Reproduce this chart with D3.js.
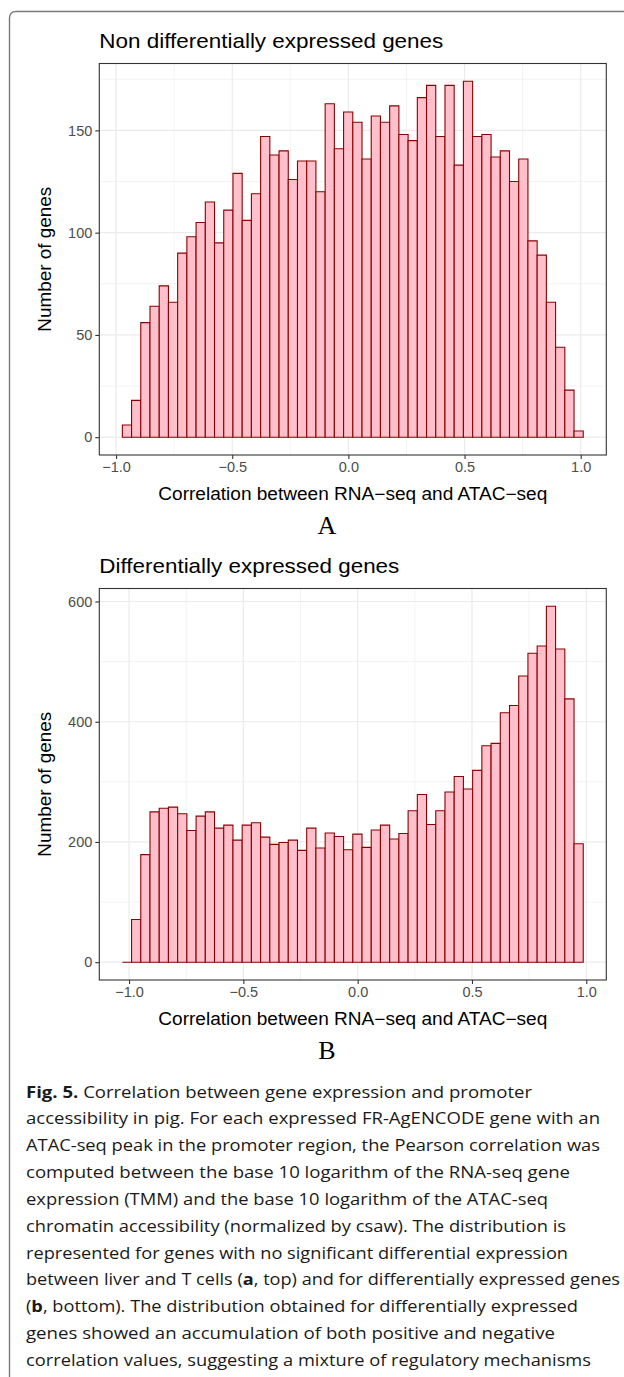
<!DOCTYPE html>
<html>
<head>
<meta charset="utf-8">
<script src="https://cdn.jsdelivr.net/npm/d3@7"></script>
<style>
  html, body { margin: 0; padding: 0; background: #fff; }
  svg { display: block; }
</style>
</head>
<body>
<svg id="fig" width="624" height="1377"></svg>
<script>
// ---------------- DATA ----------------
const panelTitles = ["Non differentially expressed genes", "Differentially expressed genes"];
const panelLetters = ["A", "B"];
const xAxisTitle = "Correlation between RNA\u2212seq and ATAC\u2212seq";
const yAxisTitle = "Number of genes";

// Panel A histogram (non DE genes): bin start, bin width, counts
const aBinStart = -0.973;
const aBinWidth = 0.03968;
const aCounts = [6, 18, 56, 64, 74, 66, 90, 98, 105, 115,
                 95, 111, 129, 106, 119, 147, 138, 140, 126, 135,
                 135, 120, 163, 141, 159, 154, 136, 157, 154, 162,
                 148, 145, 166, 172, 147, 172, 133, 174, 147, 148,
                 137, 140, 125, 136, 96, 89, 66, 44, 23, 3];
const aYTicks = [0, 50, 100, 150];

// Panel B histogram (DE genes)
const bBinStart = -1.0293;
const bBinWidth = 0.04032;
const bCounts = [0, 71, 179, 250, 256, 258, 247, 219, 243, 250,
                 223, 228, 203, 228, 232, 208, 196, 199, 203, 186,
                 223, 190, 215, 209, 187, 213, 191, 220, 228, 205,
                 214, 252, 279, 229, 252, 283, 309, 288, 319, 360,
                 364, 415, 427, 476, 514, 526, 592, 521, 438, 197];
const bYTicks = [0, 200, 400, 600];

const xTicks = [-1.0, -0.5, 0.0, 0.5, 1.0];
const xMinorTicks = [-0.75, -0.25, 0.25, 0.75];

const captionLines = [
  [["Fig. 5.", true], [" Correlation between gene expression and promoter", false]],
  [["accessibility in pig. For each expressed FR-AgENCODE gene with an", false]],
  [["ATAC-seq peak in the promoter region, the Pearson correlation was", false]],
  [["computed between the base 10 logarithm of the RNA-seq gene", false]],
  [["expression (TMM) and the base 10 logarithm of the ATAC-seq", false]],
  [["chromatin accessibility (normalized by csaw). The distribution is", false]],
  [["represented for genes with no significant differential expression", false]],
  [["between liver and T cells (", false], ["a", true], [", top) and for differentially expressed genes", false]],
  [["(", false], ["b", true], [", bottom). The distribution obtained for differentially expressed", false]],
  [["genes showed an accumulation of both positive and negative", false]],
  [["correlation values, suggesting a mixture of regulatory mechanisms", false]]
];
const captionWidths = [506, 574, 574, 544, 522, 540, 542, 594, 552, 529, 565];

// ---------------- DRAW ----------------
const svg = d3.select("#fig");
const FONT = "'Liberation Sans', Arial, Helvetica, sans-serif";

// outer frame (rounded corner top-left, open to the right/bottom)
svg.append("path")
  .attr("d", "M9.5,1380 V18 Q9.5,11.5 16,11.5 H630")
  .attr("fill", "none").attr("stroke", "#7a7a7a").attr("stroke-width", 1.4);

function drawPanel(cfg) {
  const {counts, binStart, binWidth, yTicks, yMinor, top, bottom, left, right, title, titleW, letter} = cfg;
  const n = counts.length;
  const lo = binStart, hi = binStart + n * binWidth;
  const xPad = 0.05 * (hi - lo);
  const ymax = d3.max(counts);
  const x = d3.scaleLinear().domain([lo - xPad, hi + xPad]).range([left, right]);
  const y = d3.scaleLinear().domain([-0.05 * ymax, 1.05 * ymax]).range([bottom, top]);

  const g = svg.append("g");

  // minor grid
  g.selectAll(".gxm").data(xMinorTicks).join("line")
    .attr("x1", d => x(d)).attr("x2", d => x(d)).attr("y1", top).attr("y2", bottom)
    .attr("stroke", "#ebebeb").attr("stroke-width", 0.6);
  g.selectAll(".gym").data(yMinor).join("line")
    .attr("y1", d => y(d)).attr("y2", d => y(d)).attr("x1", left).attr("x2", right)
    .attr("stroke", "#ebebeb").attr("stroke-width", 0.6);
  // major grid
  g.selectAll(".gx").data(xTicks).join("line")
    .attr("x1", d => x(d)).attr("x2", d => x(d)).attr("y1", top).attr("y2", bottom)
    .attr("stroke", "#ebebeb").attr("stroke-width", 1.2);
  g.selectAll(".gy").data(yTicks).join("line")
    .attr("y1", d => y(d)).attr("y2", d => y(d)).attr("x1", left).attr("x2", right)
    .attr("stroke", "#ebebeb").attr("stroke-width", 1.2);

  // bars
  g.selectAll(".bar").data(counts).join("path")
    .attr("d", (d, i) => {
      const x0 = x(binStart + i * binWidth), x1 = x(binStart + (i + 1) * binWidth);
      const y0 = y(0), y1 = y(d);
      return `M${x0},${y0} V${y1} H${x1} V${y0} Z`;
    })
    .attr("fill", "#ffc0cb").attr("stroke", "#8b0000").attr("stroke-width", 1.1)
    .attr("stroke-linejoin", "miter");

  // panel border
  g.append("rect").attr("x", left).attr("y", top).attr("width", right - left).attr("height", bottom - top)
    .attr("fill", "none").attr("stroke", "#333333").attr("stroke-width", 1.1);

  // x axis
  const xa = g.append("g").attr("transform", `translate(0,${bottom})`)
    .call(d3.axisBottom(x).tickValues(xTicks).tickSize(4).tickPadding(3)
      .tickFormat(d => d3.format(".1f")(d).replace("-", "\u2212")));
  xa.select(".domain").remove();
  xa.selectAll("line").attr("stroke", "#333333").attr("stroke-width", 1.1);
  xa.selectAll("text").attr("fill", "#4d4d4d").attr("font-size", "14.5px").attr("font-family", FONT);

  // y axis
  const ya = g.append("g").attr("transform", `translate(${left},0)`)
    .call(d3.axisLeft(y).tickValues(yTicks).tickSize(4).tickPadding(3));
  ya.select(".domain").remove();
  ya.selectAll("line").attr("stroke", "#333333").attr("stroke-width", 1.1);
  ya.selectAll("text").attr("fill", "#4d4d4d").attr("font-size", "14.5px").attr("font-family", FONT);

  // titles
  g.append("text").attr("x", left).attr("y", top - 15.5).text(title)
    .attr("font-family", FONT).attr("font-size", "21px").attr("fill", "#000")
    .attr("textLength", titleW).attr("lengthAdjust", "spacingAndGlyphs");
  g.append("text").attr("x", (left + right) / 2).attr("y", bottom + 44.5).text(xAxisTitle)
    .attr("text-anchor", "middle").attr("font-family", FONT).attr("font-size", "17.5px").attr("fill", "#000")
    .attr("textLength", 389).attr("lengthAdjust", "spacingAndGlyphs");
  g.append("text")
    .attr("transform", `translate(50.5,${(top + bottom) / 2}) rotate(-90)`)
    .attr("text-anchor", "middle").text(yAxisTitle)
    .attr("font-family", FONT).attr("font-size", "17.5px").attr("fill", "#000")
    .attr("textLength", 145).attr("lengthAdjust", "spacingAndGlyphs");
  g.append("text").attr("x", 327).attr("y", bottom + 79).text(letter)
    .attr("text-anchor", "middle").attr("font-family", "'Liberation Serif', 'Times New Roman', serif")
    .attr("font-size", "26px").attr("fill", "#000");
}

drawPanel({counts: aCounts, binStart: aBinStart, binWidth: aBinWidth, yTicks: aYTicks,
  yMinor: [25, 75, 125, 175], top: 63.5, bottom: 455, left: 99.3, right: 606.3,
  title: panelTitles[0], titleW: 344, letter: panelLetters[0]});
drawPanel({counts: bCounts, binStart: bBinStart, binWidth: bBinWidth, yTicks: bYTicks,
  yMinor: [100, 300, 500], top: 588.5, bottom: 980, left: 99.3, right: 606.3,
  title: panelTitles[1], titleW: 300, letter: panelLetters[1]});

// caption
const cap = svg.append("g");
captionLines.forEach((line, i) => {
  const t = cap.append("text")
    .attr("x", 26).attr("y", 1097.5 + i * 26.85)
    .attr("font-family", "'Open Sans', 'Noto Sans', sans-serif")
    .attr("font-size", "15.5px").attr("fill", "#1a1a1a")
    .attr("textLength", captionWidths[i]).attr("lengthAdjust", "spacingAndGlyphs");
  line.forEach(([s, bold]) => {
    t.append("tspan").text(s).attr("font-weight", bold ? 700 : 400);
  });
});
</script>
</body>
</html>
